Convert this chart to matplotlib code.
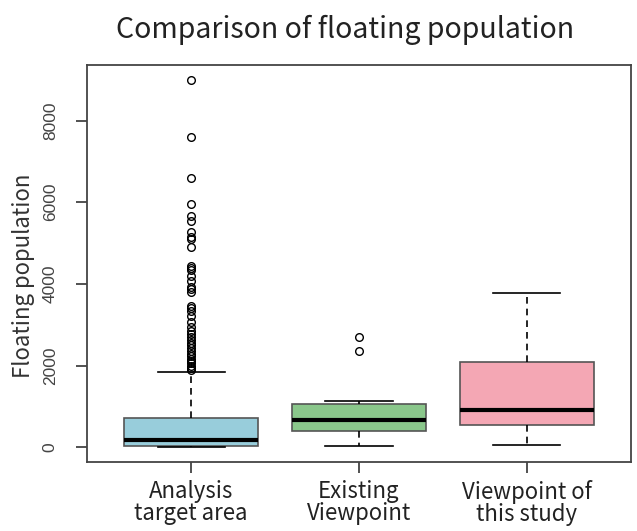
import matplotlib
matplotlib.use('Agg')
import matplotlib.pyplot as plt

# Box statistics
groups = ['Analysis\ntarget area', 'Existing\nViewpoint', 'Viewpoint of\nthis study']
whis_lo = [0, 20, 60]
q1 = [30, 390, 550]
medians = [170, 670, 910]
q3 = [720, 1050, 2080]
whis_hi = [1850, 1140, 3780]
outliers = [
    [9000, 7600, 6600, 5960, 5670, 5550, 5280, 5150, 5100, 4910, 4450, 4400, 4330,
     4200, 4080, 3930, 3880, 3810, 3450, 3400, 3330, 3220, 3070, 2950, 2850, 2780,
     2700, 2620, 2560, 2500, 2420, 2350, 2290, 2230, 2170, 2110, 2060, 2000, 1950, 1900],
    [2690, 2350],
    [],
]
colors = ['#98CDDB', '#8AC78B', '#F4A7B4']

stats = []
for i in range(len(groups)):
    stats.append(dict(med=medians[i], q1=q1[i], q3=q3[i], whislo=whis_lo[i],
                      whishi=whis_hi[i], fliers=outliers[i], label=groups[i]))

fig = plt.figure(figsize=(6.37, 5.31), dpi=100)
ax = fig.add_axes([87/637, 69/531, 544/637, 397/531])

bp = ax.bxp(stats, positions=[1, 2, 3], widths=0.8, patch_artist=True,
            boxprops=dict(edgecolor='#555555', linewidth=1.2),
            medianprops=dict(color='black', linewidth=3),
            whiskerprops=dict(color='black', linestyle=(0, (4, 3)), linewidth=1.2),
            capprops=dict(color='black', linewidth=1.2),
            flierprops=dict(marker='o', markerfacecolor='none', markeredgecolor='black',
                            markersize=5.5, markeredgewidth=1))
for patch, c in zip(bp['boxes'], colors):
    patch.set_facecolor(c)

ax.set_xlim(0.38, 3.62)
ax.set_ylim(-360, 9360)
ax.set_yticks([0, 2000, 4000, 6000, 8000])
ax.set_yticklabels(['0', '2000', '4000', '6000', '8000'], rotation=90, va='center',
                   fontsize=12.5, family='Liberation Sans', color='#444444')
ax.set_xticks([1, 2, 3])
ax.set_xticklabels(groups, fontsize=16, family='Noto Sans CJK JP', color='#222222',
                   linespacing=0.95)
ax.tick_params(axis='both', direction='out', length=8, width=1.2, color='#333333')
ax.tick_params(axis='x', pad=5)
ax.tick_params(axis='y', pad=13)
for s in ax.spines.values():
    s.set_color('#444444')
    s.set_linewidth(1.3)

ax.set_ylabel('Floating population', fontsize=16, family='Noto Sans CJK JP',
              color='#333333')
ax.yaxis.set_label_coords(-0.095, 0.468)
fig.text(345/637, 1 - 30/531, 'Comparison of floating population', ha='center', va='center',
         fontsize=20.5, family='Noto Sans CJK JP', color='#222222')

fig.savefig('out.png', dpi=100)
